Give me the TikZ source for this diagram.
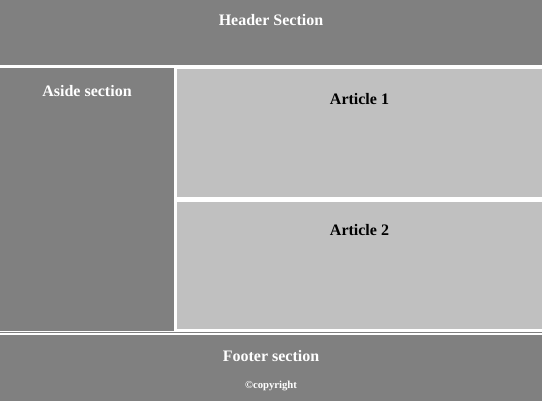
\documentclass[tikz,border=0pt]{standalone}
\usepackage{fontspec}
\setmainfont{Liberation Serif}
\definecolor{boxgray}{HTML}{808080}
\definecolor{boxsilver}{HTML}{C0C0C0}
\begin{document}
\begin{tikzpicture}[
				x = 1pt, y = -1pt, % one unit is one pixel, y goes down
				box/.style = {anchor=north west, inner sep=0pt, outer sep=0pt},
				title/.style = {anchor=base, inner sep=0pt, font=\fontsize{16}{19}\selectfont\bfseries},
				small/.style = {anchor=base, inner sep=0pt, font=\fontsize{10.7}{13}\selectfont\bfseries}
				]
				
				\fill[white] (0,0) rectangle (542,401);
				\useasboundingbox (0,0) rectangle (542,401);
				
				\node[box,fill=boxgray,minimum width=542pt,minimum height=65pt] (header) at (0,0) {};
				\node[box,fill=boxgray,minimum width=174pt,minimum height=263pt] (aside) at (0,68) {};
				\node[box,fill=boxsilver,minimum width=365pt,minimum height=128pt] (art1) at (177,69) {};
				\node[box,fill=boxsilver,minimum width=365pt,minimum height=127pt] (art2) at (177,202) {};
				\node[box,fill=boxgray,minimum width=542pt,minimum height=1pt] (rule) at (0,332.5) {};
				\node[box,fill=boxgray,minimum width=542pt,minimum height=66pt] (footer) at (0,335) {};
				
				\node[title,white] (headertxt) at (271,26) {Header Section};
				\node[title,white] (asidetxt) at (87,96.5) {Aside section};
				\node[title,black] (art1txt) at (359.5,105) {Article 1};
				\node[title,black] (art2txt) at (359.5,236) {Article 2};
				\node[title,white] (footertxt) at (271,361.5) {Footer section};
				\node[small,white] (copytxt) at (271,389) {©copyright};
			\end{tikzpicture}
\end{document}
